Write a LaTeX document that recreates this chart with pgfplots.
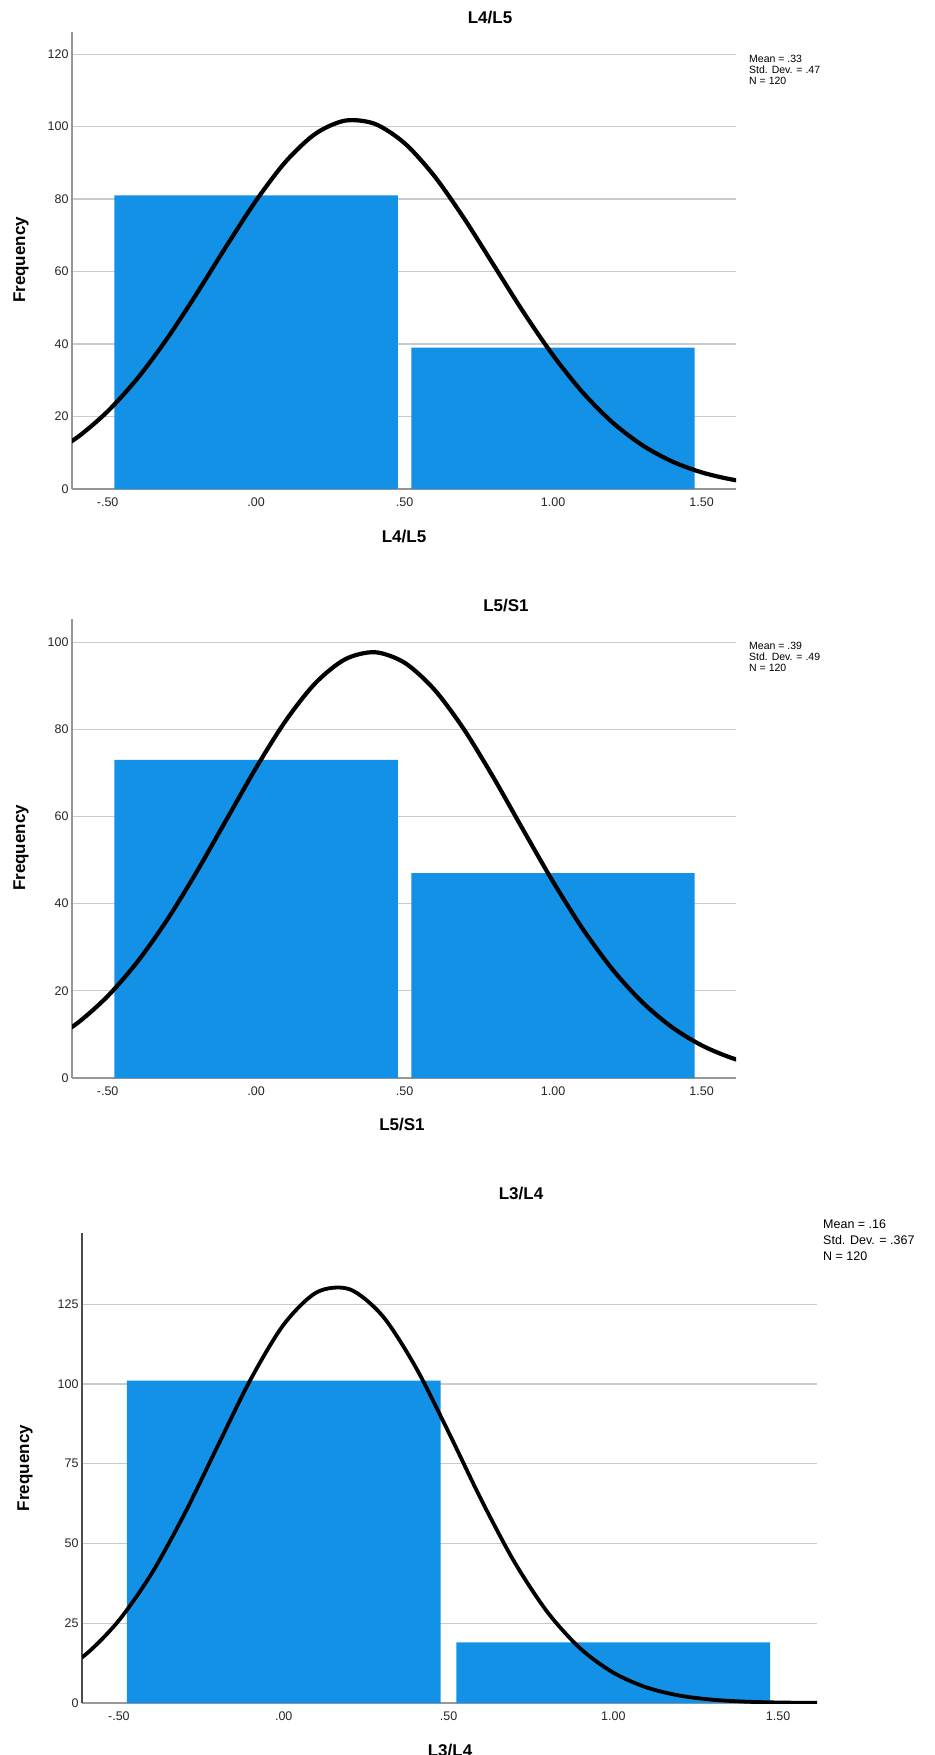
\documentclass[border=0pt]{standalone}
\usepackage{fontspec}
\setmainfont{Liberation Sans}
\usepackage{pgfplots}
\pgfplotsset{compat=1.18}
\definecolor{barblue}{RGB}{19,145,230}
\definecolor{gridgray}{RGB}{202,202,202}
\definecolor{axisgray}{RGB}{150,150,150}
\pgfplotsset{spss/.style={
  scale only axis, anchor=south west,
  axis x line*=bottom, axis y line*=left,
  axis line style={-, axisgray, line width=1.4pt},
  ymajorgrids, grid style={gridgray, line width=1.2pt},
  tick style={draw=none},
  xtick={-0.5,0,0.5,1,1.5},
  xticklabels={-.50,.00,.50,1.00,1.50},
  ticklabel style={font=\fontsize{12.5}{14}\selectfont, text=black!85},
  xticklabel style={yshift=-5pt},
  /pgf/number format/assume math mode=true,
}}
\begin{document}
\begin{tikzpicture}
\useasboundingbox (0pt,0pt) rectangle (934pt,-1755pt);
% ---------- Panel 1: L4/L5 ----------
\begin{axis}[spss, at={(72pt,-489pt)}, width=664pt, height=457pt,
  xmin=-0.62, xmax=1.616, ymin=0, ymax=126.1, ytick={0,20,...,120}]
\addplot[ybar, bar width=0.954, fill=barblue, draw=none] coordinates {(0,81) (1,39)};
\addplot[black, line width=4.2pt, smooth] coordinates {
(-0.7,9.23) (-0.6,14.38) (-0.5,21.42) (-0.4,30.49) (-0.3,41.48) (-0.2,53.94) (-0.1,67.03)
(0,79.60) (0.1,90.37) (0.2,98.04) (0.3,101.65) (0.4,100.74)
(0.5,95.41) (0.6,86.37) (0.7,74.71) (0.8,61.78) (0.9,48.82) (1.0,36.88)
(1.1,26.62) (1.2,18.37) (1.3,12.11) (1.4,7.63) (1.5,4.60) (1.6,2.65) (1.7,1.46)};
\end{axis}
\node[font=\bfseries\fontsize{17}{19}\selectfont] at (490pt,-18pt) {L4/L5};
\node[anchor=north west, align=left, inner sep=0pt, font=\fontsize{10.5}{11}\selectfont] at (749pt,-55pt) {Mean = .33\\Std. Dev. = .47\\N = 120};
\node[rotate=90, font=\bfseries\fontsize{17}{19}\selectfont] at (21pt,-260pt) {Frequency};
\node[font=\bfseries\fontsize{17}{19}\selectfont] at (404pt,-537pt) {L4/L5};
% ---------- Panel 2: L5/S1 ----------
\begin{axis}[spss, at={(72pt,-1078pt)}, width=664pt, height=459pt,
  xmin=-0.62, xmax=1.616, ymin=0, ymax=105.3, ytick={0,20,...,100}]
\addplot[ybar, bar width=0.954, fill=barblue, draw=none] coordinates {(0,73) (1,47)};
\addplot[black, line width=4.2pt, smooth] coordinates {
(-0.7,8.23) (-0.6,12.69) (-0.5,18.77) (-0.4,26.64) (-0.3,36.25) (-0.2,47.32) (-0.1,59.26)
(0,71.18) (0.1,82.00) (0.2,90.62) (0.3,96.07) (0.4,97.68) (0.5,95.27)
(0.6,89.13) (0.7,79.98) (0.8,68.84) (0.9,56.84) (1.0,45.02) (1.1,34.20)
(1.2,24.92) (1.3,17.42) (1.4,11.68) (1.5,7.51) (1.6,4.63) (1.7,2.74)};
\end{axis}
\node[font=\bfseries\fontsize{17}{19}\selectfont] at (506pt,-606pt) {L5/S1};
\node[anchor=north west, align=left, inner sep=0pt, font=\fontsize{10.5}{11}\selectfont] at (749pt,-642pt) {Mean = .39\\Std. Dev. = .49\\N = 120};
\node[rotate=90, font=\bfseries\fontsize{17}{19}\selectfont] at (21pt,-848pt) {Frequency};
\node[font=\bfseries\fontsize{17}{19}\selectfont] at (402pt,-1124pt) {L5/S1};
% ---------- Panel 3: L3/L4 ----------
\begin{axis}[spss, at={(82pt,-1703pt)}, width=735pt, height=470pt,
  xmin=-0.612, xmax=1.618, ymin=0, ymax=147.3, ytick={0,25,...,125},
  y axis line style={black!70, line width=1.4pt},
  x axis line style={black!40, line width=2pt}]
\addplot[ybar, bar width=0.952, fill=barblue, draw=none] coordinates {(0,101) (1,19)};
\addplot[black, line width=3.8pt, smooth] coordinates {
(-0.7,8.38) (-0.6,15.28) (-0.5,25.89) (-0.4,40.72) (-0.3,59.47) (-0.2,80.63) (-0.1,101.49)
(0,118.61) (0.1,128.71) (0.2,129.67) (0.3,121.29) (0.4,105.33)
(0.5,84.92) (0.6,63.57) (0.7,44.19) (0.8,28.51) (0.9,17.08) (1.0,9.51)
(1.1,4.91) (1.2,2.35) (1.3,1.05) (1.4,0.43) (1.5,0.17) (1.6,0.06) (1.7,0.02)};
\end{axis}
\node[font=\bfseries\fontsize{17}{19}\selectfont] at (521pt,-1193pt) {L3/L4};
\node[anchor=north west, align=left, inner sep=0pt, font=\fontsize{12.5}{16}\selectfont] at (823pt,-1220pt) {Mean = .16\\Std. Dev. = .367\\N = 120};
\node[rotate=90, font=\bfseries\fontsize{17}{19}\selectfont] at (25pt,-1468pt) {Frequency};
\node[anchor=north, font=\bfseries\fontsize{17}{19}\selectfont] at (450pt,-1741pt) {L3/L4};
\end{tikzpicture}
\end{document}
